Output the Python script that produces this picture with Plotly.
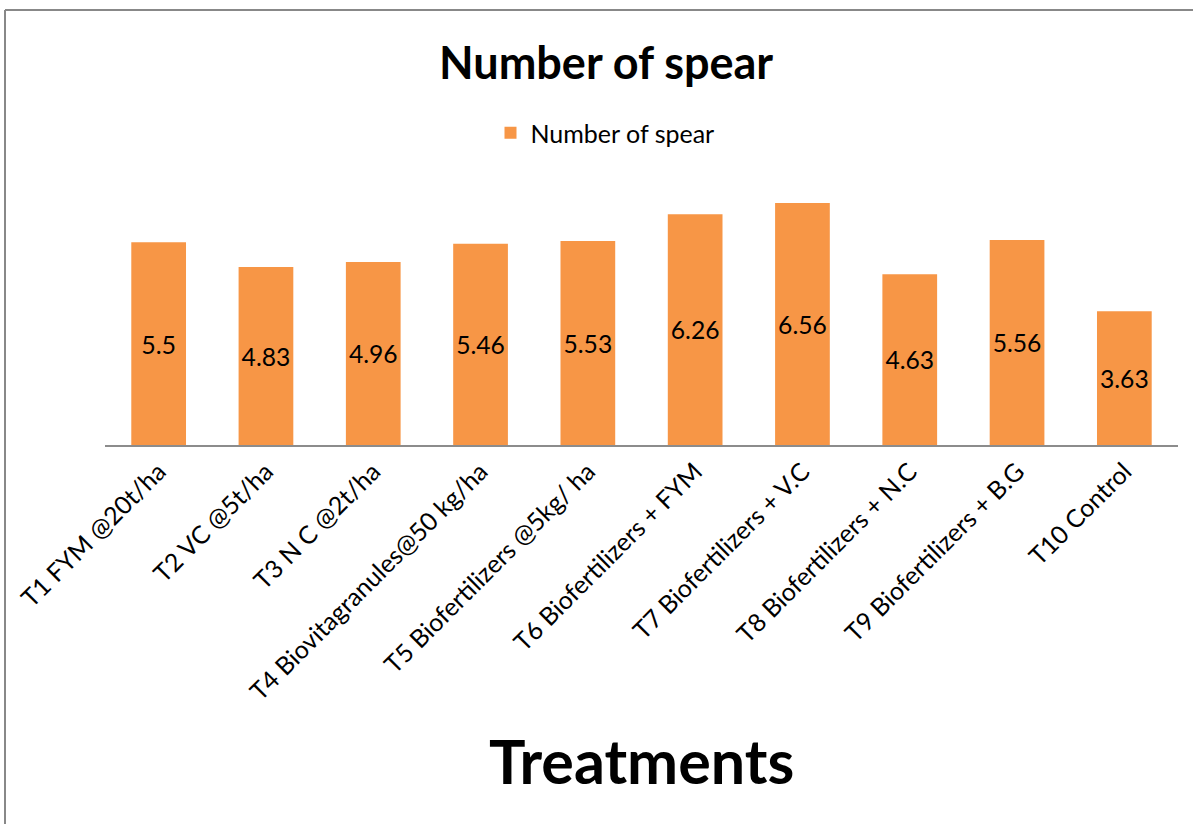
import plotly.graph_objects as go

categories = [
    "T1 FYM @20t/ha",
    "T2 VC @5t/ha",
    "T3 N C @2t/ha",
    "T4 Biovitagranules@50 kg/ha",
    "T5 Biofertilizers @5kg/ ha",
    "T6 Biofertilizers + FYM",
    "T7 Biofertilizers + V.C",
    "T8 Biofertilizers + N.C",
    "T9 Biofertilizers + B.G",
    "T10 Control",
]
values = [5.5, 4.83, 4.96, 5.46, 5.53, 6.26, 6.56, 4.63, 5.56, 3.63]
labels = ["5.5", "4.83", "4.96", "5.46", "5.53", "6.26", "6.56", "4.63", "5.56", "3.63"]

W, H = 1193, 824
L, R, T, B = 105, 15, 150, 379
pw, ph = W - L - R, H - T - B

def px(x):
    return (x - L) / pw

def py(y):
    return (H - B - y) / ph

FONT = "Lato, Open Sans, sans-serif"

fig = go.Figure()
fig.add_trace(go.Bar(
    x=categories, y=values, name="Number of spear",
    marker=dict(color="#F79646", line=dict(width=0)),
    text=labels, textposition="inside", insidetextanchor="middle",
    textfont=dict(size=25, color="#000000", family=FONT),
    textangle=0, cliponaxis=False,
))

fig.update_layout(
    width=W, height=H,
    margin=dict(l=L, r=R, t=T, b=B, autoexpand=False),
    paper_bgcolor="white", plot_bgcolor="white",
    bargap=0.49,
    showlegend=True,
    legend=dict(orientation="h", x=px(605), y=py(133), xanchor="center", yanchor="middle",
                font=dict(size=25, color="#000000", family=FONT), itemwidth=30),
    xaxis=dict(tickangle=-45, tickfont=dict(size=25, color="#000000", family=FONT),
               showline=True, linecolor="#8C8C8C", linewidth=2, ticks="", showgrid=False),
    yaxis=dict(range=[0, 8], visible=False, showgrid=False),
    font=dict(family=FONT),
    annotations=[
        dict(text="<b>Number of spear</b>", x=px(606), y=py(62), xref="paper", yref="paper",
             showarrow=False, font=dict(size=45, color="#000000", family=FONT),
             xanchor="center", yanchor="middle"),
        dict(text="<b>Treatments</b>", x=px(641), y=py(760), xref="paper", yref="paper",
             showarrow=False, font=dict(size=61, color="#000000", family=FONT),
             xanchor="center", yanchor="middle"),
    ],
    shapes=[
        dict(type="line", xref="paper", yref="paper", x0=px(5), x1=px(1200), y0=py(10), y1=py(10),
             line=dict(color="#888888", width=2)),
        dict(type="line", xref="paper", yref="paper", x0=px(5), x1=px(5), y0=py(10), y1=py(830),
             line=dict(color="#888888", width=2)),
    ],
)

fig.write_html("out.html")
